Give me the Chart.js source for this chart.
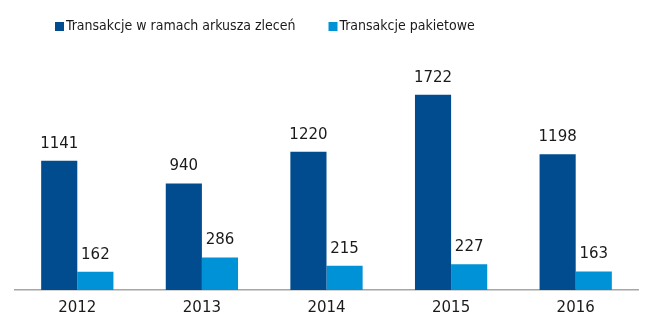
<!DOCTYPE html>
<html lang="pl">
<head>
<meta charset="UTF-8">
<title>Transakcje</title>
<script src="https://cdn.jsdelivr.net/npm/chart.js"></script>
<style>
  html, body { margin: 0; padding: 0; background: #fff; }
  #wrap { width: 650px; height: 329px; }
</style>
</head>
<body>
<div id="wrap"><canvas id="wykres"></canvas></div>
<script>
// dane
const lata = ['2012', '2013', '2014', '2015', '2016'];
const arkusz = [1141, 940, 1220, 1722, 1198];
const pakietowe = [162, 286, 215, 227, 163];
const nazwy = ['Transakcje w ramach arkusza zleceń', 'Transakcje pakietowe'];
const kolory = ['#004c8f', '#0092d6'];

const czcionka = '"DejaVu Sans", Verdana, sans-serif';

// etykiety nad słupkami
const etykiety = {
  id: 'etykiety',
  afterDatasetsDraw(chart) {
    const ctx = chart.ctx;
    ctx.save();
    ctx.font = '15px ' + czcionka;
    ctx.fillStyle = '#1a1a1a';
    ctx.textAlign = 'center';
    ctx.textBaseline = 'middle';
    chart.data.datasets.forEach((ds, i) => {
      chart.getDatasetMeta(i).data.forEach((bar, j) => {
        ctx.fillText(ds.data[j], bar.x, bar.y - 17);
      });
    });
    ctx.restore();
  }
};

// legenda rysowana ręcznie (przesunięta w lewo jak w oryginale)
const legenda = {
  id: 'legenda',
  afterDraw(chart) {
    const ctx = chart.ctx;
    ctx.save();
    ctx.font = '14px "DejaVu Sans Condensed", ' + czcionka;
    ctx.textBaseline = 'middle';
    ctx.textAlign = 'left';
    let x = 55;
    const y = 26;
    chart.data.datasets.forEach((ds) => {
      ctx.fillStyle = ds.backgroundColor;
      ctx.fillRect(x, y - 4, 9, 9);
      ctx.fillStyle = '#1a1a1a';
      ctx.fillText(ds.label, x + 11, y);
      x += 11 + ctx.measureText(ds.label).width + 33;
    });
    ctx.restore();
  }
};

new Chart(document.getElementById('wykres'), {
  type: 'bar',
  data: {
    labels: lata,
    datasets: [
      { label: nazwy[0], data: arkusz, backgroundColor: kolory[0] },
      { label: nazwy[1], data: pakietowe, backgroundColor: kolory[1] }
    ]
  },
  options: {
    responsive: true,
    maintainAspectRatio: false,
    animation: false,
    datasets: { bar: { categoryPercentage: 0.58, barPercentage: 1 } },
    layout: { padding: { left: 15, right: 12, top: 52, bottom: 11 } },
    plugins: {
      legend: { display: false },
      tooltip: { enabled: false }
    },
    scales: {
      x: {
        grid: { display: false },
        border: { display: true, color: '#a6a6a6', width: 1.5 },
        ticks: { color: '#1a1a1a', padding: 1, font: { family: czcionka, size: 15 } }
      },
      y: {
        display: false,
        min: 0,
        max: 2100
      }
    }
  },
  plugins: [etykiety, legenda]
});
</script>
</body>
</html>
